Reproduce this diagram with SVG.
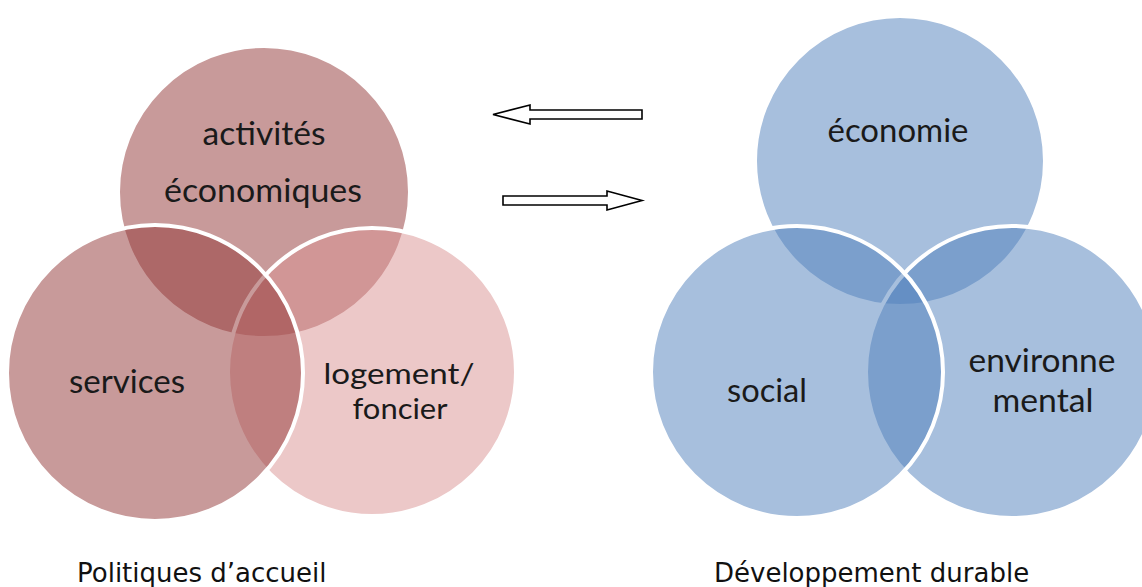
<svg xmlns="http://www.w3.org/2000/svg" width="1142" height="587" viewBox="0 0 1142 587">
<style>
.c{stroke:#ffffff;stroke-width:4;fill-opacity:0.5}
.red{fill:#913535}
.pink{fill:#d99191}
.blue{fill:#4f7fbb}
.t{font-family:Lato,"Open Sans","Liberation Sans",sans-serif;font-size:32px;fill:#1a1a1a;text-anchor:middle}
.s{font-size:29px}
.cap{font-family:"DejaVu Sans",Verdana,sans-serif;font-size:26px;fill:#111111}
.arr{fill:#ffffff;stroke:#000000;stroke-width:1.6;stroke-linejoin:miter}
</style>
<rect width="1142" height="587" fill="#ffffff"/>
<g id="activites">
<circle class="c red" cx="264" cy="192" r="146"/>
<text class="t" x="264" y="145" textLength="123" lengthAdjust="spacingAndGlyphs">activités</text>
<text class="t" x="263" y="202" textLength="198" lengthAdjust="spacingAndGlyphs">économiques</text>
</g>
<g id="logement">
<circle class="c pink" cx="372" cy="372" r="144"/>
<text class="t s" x="399" y="384" textLength="151" lengthAdjust="spacingAndGlyphs">logement/</text>
<text class="t s" x="400" y="419" textLength="95" lengthAdjust="spacingAndGlyphs">foncier</text>
</g>
<g id="services">
<circle class="c red" cx="155" cy="373" r="148"/>
<text class="t" x="127" y="393" textLength="116" lengthAdjust="spacingAndGlyphs">services</text>
</g>
<g id="economie">
<circle class="c blue" cx="900" cy="161" r="145"/>
<text class="t" x="898" y="142" textLength="141" lengthAdjust="spacingAndGlyphs">économie</text>
</g>
<g id="environnemental">
<circle class="c blue" cx="1012" cy="372" r="146"/>
<text class="t" x="1042" y="372" textLength="147" lengthAdjust="spacingAndGlyphs">environne</text>
<text class="t" x="1043" y="412" textLength="101" lengthAdjust="spacingAndGlyphs">mental</text>
</g>
<g id="social">
<circle class="c blue" cx="797" cy="372" r="146"/>
<text class="t" x="767" y="402" textLength="80" lengthAdjust="spacingAndGlyphs">social</text>
</g>
<g id="connectors">
<polygon class="arr" points="493,114.5 530,105 530,110 642,110 642,119 530,119 530,124"/>
<polygon class="arr" points="503,196 607,196 607,191 642,200.5 607,210 607,205 503,205"/>
</g>
<g id="labels">
<text class="cap" x="77" y="582">Politiques d’accueil</text>
<text class="cap" x="714" y="582">Développement durable</text>
</g>
</svg>
